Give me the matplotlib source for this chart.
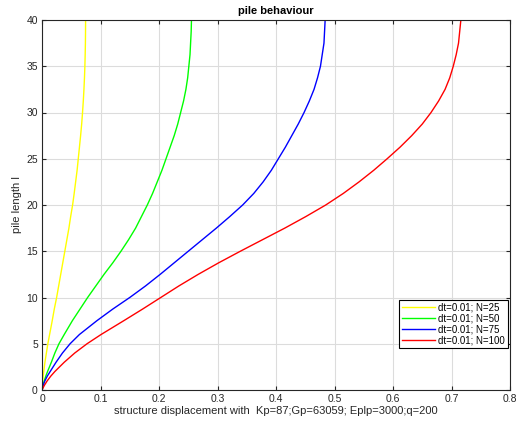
import matplotlib
matplotlib.use("Agg")
import matplotlib.pyplot as plt

plt.rcParams['font.family'] = ['Liberation Sans', 'DejaVu Sans']

pile_length = [0, 0.5, 1, 1.5, 2, 3, 4, 5, 6, 7.5, 8.75, 10, 11.25, 12.5, 13.75, 15,
               16.25, 17.5, 18.75, 20, 21.25, 22.5, 23.75, 25, 26.25, 27.5, 28.75, 30,
               31.25, 32.5, 33.75, 35, 36.25, 37.5, 38.75, 40]

disp_n25 = [0, 0.0006, 0.0013, 0.002, 0.003, 0.005, 0.0075, 0.010, 0.013, 0.0175, 0.021,
            0.025, 0.0285, 0.032, 0.0355, 0.039, 0.0425, 0.046, 0.049, 0.0523, 0.055,
            0.0575, 0.060, 0.062, 0.064, 0.066, 0.0678, 0.0693, 0.0706, 0.0717, 0.0726,
            0.0733, 0.0738, 0.0742, 0.0744, 0.0745]
disp_n50 = [0, 0.0015, 0.004, 0.0065, 0.0095, 0.016, 0.022, 0.029, 0.038, 0.052, 0.065,
            0.078, 0.092, 0.106, 0.121, 0.135, 0.148, 0.160, 0.170, 0.180, 0.189,
            0.197, 0.205, 0.212, 0.219, 0.226, 0.232, 0.237, 0.242, 0.246, 0.249,
            0.251, 0.253, 0.254, 0.255, 0.2555]
disp_n75 = [0, 0.002, 0.005, 0.009, 0.014, 0.024, 0.035, 0.048, 0.064, 0.094, 0.121,
            0.150, 0.177, 0.202, 0.226, 0.250, 0.274, 0.298, 0.321, 0.343, 0.362,
            0.378, 0.392, 0.404, 0.416, 0.427, 0.438, 0.448, 0.457, 0.465, 0.471,
            0.476, 0.479, 0.482, 0.483, 0.484]
disp_n100 = [0, 0.004, 0.009, 0.015, 0.022, 0.038, 0.056, 0.077, 0.101, 0.140, 0.172,
             0.203, 0.234, 0.267, 0.302, 0.339, 0.377, 0.415, 0.451, 0.485, 0.515,
             0.542, 0.567, 0.590, 0.612, 0.632, 0.650, 0.665, 0.678, 0.689, 0.697,
             0.703, 0.708, 0.712, 0.714, 0.716]

labels = ['dt=0.01; N=25', 'dt=0.01; N=50', 'dt=0.01; N=75', 'dt=0.01; N=100']
colors = ['#ffff00', '#00ff00', '#0000ff', '#ff0000']

fig = plt.figure(figsize=(5.18, 4.25), dpi=100)
ax = fig.add_axes([42/518, 1 - 390/425, (510 - 42)/518, (390 - 20)/425])

for xs, lab, c in zip([disp_n25, disp_n50, disp_n75, disp_n100], labels, colors):
    ax.plot(xs, pile_length, color=c, lw=1.0, label=lab)

ax.set_xlim(0, 0.8)
ax.set_ylim(0, 40)
ax.set_xticks([0, 0.1, 0.2, 0.3, 0.4, 0.5, 0.6, 0.7, 0.8])
ax.set_xticklabels(['0', '0.1', '0.2', '0.3', '0.4', '0.5', '0.6', '0.7', '0.8'])
ax.set_yticks(range(0, 41, 5))
ax.grid(True, color='#dcdcdc', lw=0.8)
ax.set_axisbelow(True)
ax.tick_params(direction='in', top=True, right=True, labelsize=7.5,
               colors='#262626', length=3, width=0.8, pad=3)
for s in ax.spines.values():
    s.set_color('#262626')
    s.set_linewidth(0.8)

ax.set_title('pile behaviour', fontsize=8, fontweight='bold', pad=4)
ax.set_xlabel('structure displacement with  Kp=87;Gp=63059; Eplp=3000;q=200',
              fontsize=8, color='#262626', labelpad=1)
ax.set_ylabel('pile length l', fontsize=8, color='#262626', labelpad=3)

leg = ax.legend(loc='lower right', bbox_to_anchor=(0.995, 0.113), fontsize=7,
                frameon=True, fancybox=False, edgecolor='black', framealpha=1,
                handlelength=3.4, handletextpad=0.4, borderpad=0.25, labelspacing=0.1,
                borderaxespad=0)
leg.get_frame().set_linewidth(0.8)

fig.savefig('out.png', dpi=100)
